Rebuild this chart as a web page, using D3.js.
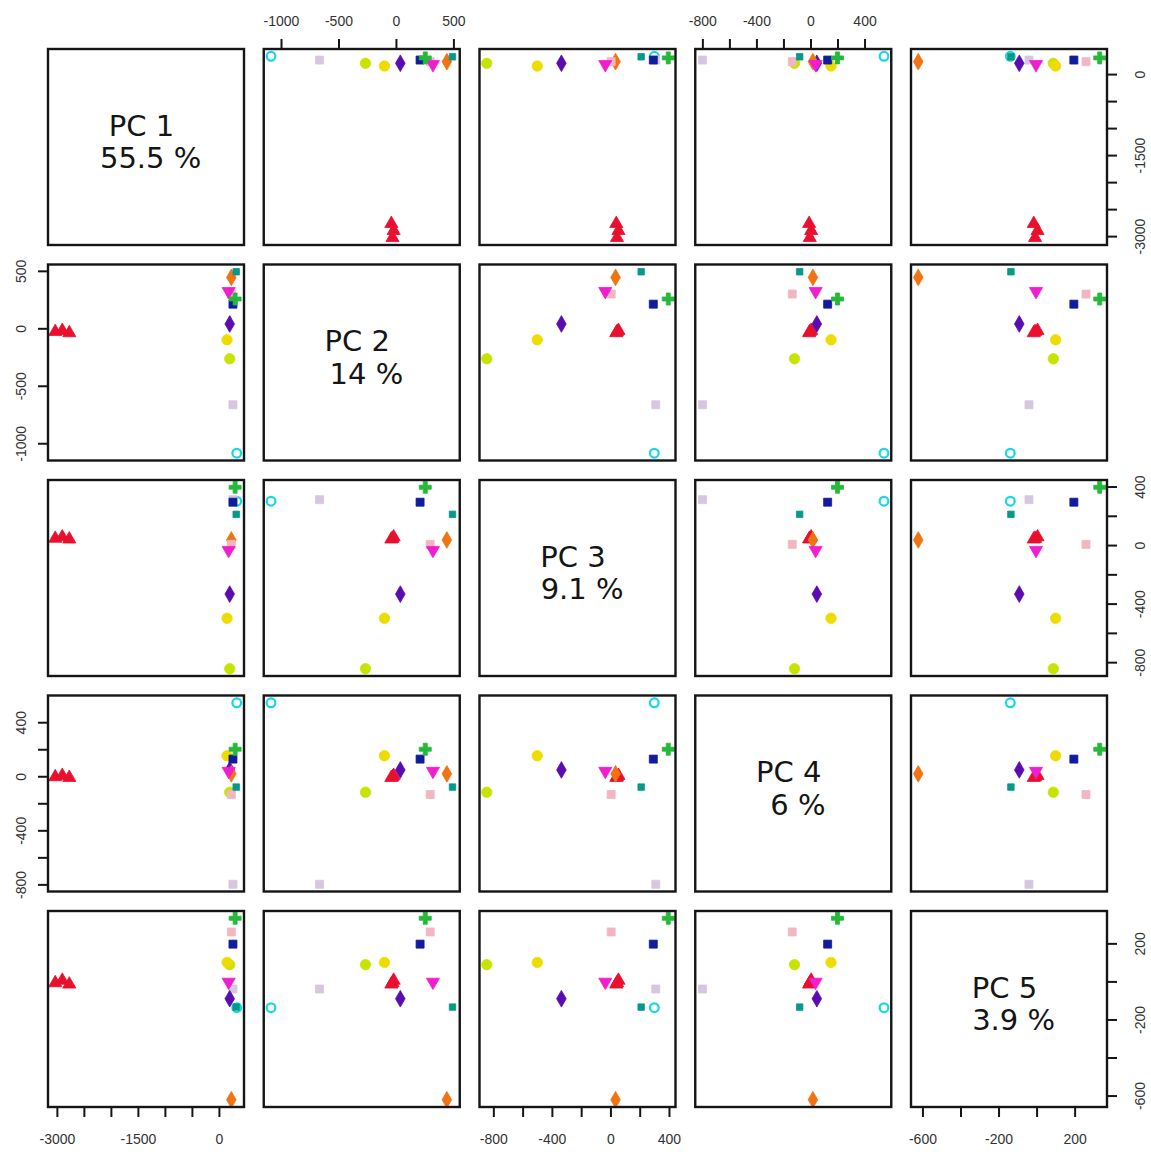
<!DOCTYPE html>
<html><head><meta charset="utf-8">
<script src="https://cdn.jsdelivr.net/npm/d3@7"></script>
<style>body{margin:0;background:#fff}</style>
</head><body>
<svg id="chart" width="1151" height="1154"></svg>
<script>
// ---------- data ----------
const pcNames = ["PC 1", "PC 2", "PC 3", "PC 4", "PC 5"];
const pcVariance = ["55.5 %", "14 %", "9.1 %", "6 %", "3.9 %"];
const samples = ["R1", "R2", "R3", "Cyan", "Lavender", "YellowGreen", "Yellow", "Purple", "Orange", "Pink", "Magenta", "Blue", "Green", "Teal"];
const pc1 = [-3030, -2900, -2770, 330, 260, 200, 150, 200, 230, 230, 180, 260, 300, 320];
const pc2 = [-30, -20, -40, -1087, -665, -265, -100, 38, 443, 298, 322, 210, 255, 492];
const pc3 = [45, 55, 40, 300, 310, -845, -500, -335, 35, 5, -35, 293, 395, 210];
const pc4 = [-5, 5, -10, 544, -799, -118, 152, 47, 18, -135, 38, 127, 200, -80];
const pc5 = [-8, 5, -15, -138, -40, 88, 100, -91, -622, 260, -3, 196, 332, -135];
const pointColors = ["#e8102e", "#e8102e", "#e8102e", "#16d8e0", "#d6c6de", "#c6e400", "#eedc00", "#5a0cb0", "#f07414", "#f2b6c2", "#f01ecf", "#101c9c", "#26b83a", "#06998a"];
const pointShapes = ["triangle", "triangle", "triangle", "ring", "square", "circle", "circle", "diamond", "diamond", "square", "invtriangle", "square", "cross", "smallsquare"];

const pcTicks = [
  [-3000, -2500, -2000, -1500, -1000, -500, 0],
  [-1000, -500, 0, 500],
  [-800, -600, -400, -200, 0, 200, 400],
  [-800, -600, -400, -200, 0, 200, 400],
  [-600, -400, -200, 0, 200]
];
const pcTickLabels = [
  [-3000, -1500, 0],
  [-1000, -500, 0, 500],
  [-800, -400, 0, 400],
  [-800, -400, 0, 400],
  [-600, -200, 200]
];

// ---------- layout ----------
const values = [pc1, pc2, pc3, pc4, pc5];
const n = values.length;
const x0 = 48, y0 = 49, size = 196, strideX = 215.75, strideY = 215.5;
const svg = d3.select("#chart");

const domains = values.map(v => {
  const [lo, hi] = d3.extent(v);
  const pad = (hi - lo) * 0.04;
  return [lo - pad, hi + pad];
});
const xScales = domains.map(d => d3.scaleLinear().domain(d).range([0, size]));
const yScales = domains.map(d => d3.scaleLinear().domain(d).range([size, 0]));

const symbolMap = {
  triangle: [d3.symbolTriangle, 75, 0],
  invtriangle: [d3.symbolTriangle, 75, 180],
  circle: [d3.symbolCircle, 85, 0],
  ring: [d3.symbolCircle, 60, 0],
  square: [d3.symbolSquare, 64, 0],
  smallsquare: [d3.symbolSquare, 42, 0],
  diamond: [d3.symbolDiamond, 80, 0],
  cross: [d3.symbolCross, 80, 0]
};

const idx = d3.range(samples.length);

function styleAxis(ax) {
  ax.select(".domain").remove();
  ax.selectAll(".tick line").attr("stroke", "#151515").attr("stroke-width", 2);
  ax.selectAll(".tick text").attr("font-family", "Liberation Sans, Arial, sans-serif")
    .attr("font-size", 14).attr("fill", "#333");
}

for (let i = 0; i < n; i++) {
  for (let j = 0; j < n; j++) {
    const g = svg.append("g").attr("transform", `translate(${x0 + j * strideX},${y0 + i * strideY})`);
    if (i === j) {
      const t = g.append("text")
        .attr("text-anchor", "middle")
        .attr("xml:space", "preserve")
        .style("white-space", "pre")
        .attr("font-family", "DejaVu Sans, sans-serif")
        .attr("font-size", 29)
        .attr("fill", "#151515");
      t.append("tspan").attr("x", size / 2).attr("y", size / 2 - 11.5).text(pcNames[i] + " ");
      t.append("tspan").attr("x", size / 2).attr("y", size / 2 + 21).text(" " + pcVariance[i]);
    } else {
      const sx = xScales[j], sy = yScales[i];
      g.selectAll("path.pt").data(idx).join("path")
        .attr("class", "pt")
        .attr("transform", k => `translate(${sx(values[j][k])},${sy(values[i][k])}) rotate(${symbolMap[pointShapes[k]][2]})`)
        .attr("d", k => d3.symbol(symbolMap[pointShapes[k]][0], symbolMap[pointShapes[k]][1])())
        .attr("fill", k => pointShapes[k] === "ring" ? "none" : pointColors[k])
        .attr("stroke", k => pointColors[k])
        .attr("stroke-width", k => pointShapes[k] === "ring" ? 2.2 : 0.8);
    }
    g.append("rect").attr("width", size).attr("height", size)
      .attr("fill", "none").attr("stroke", "#151515").attr("stroke-width", 2.4);

    const fmt = pc => d => pcTickLabels[pc].includes(d) ? String(d) : "";
    if (i === 0 && j % 2 === 1) {
      const ax = g.append("g").call(d3.axisTop(xScales[j]).tickValues(pcTicks[j]).tickSize(10).tickPadding(13.5).tickFormat(fmt(j)));
      styleAxis(ax);
    }
    if (i === n - 1 && j % 2 === 0) {
      const ax = g.append("g").attr("transform", `translate(0,${size})`)
        .call(d3.axisBottom(xScales[j]).tickValues(pcTicks[j]).tickSize(10).tickPadding(17).tickFormat(fmt(j)));
      styleAxis(ax);
    }
    if (j === 0 && i % 2 === 1) {
      const ax = g.append("g").call(d3.axisLeft(yScales[i]).tickValues(pcTicks[i]).tickSize(10).tickFormat(fmt(i)));
      styleAxis(ax);
      ax.selectAll(".tick text").attr("x", null).attr("dy", null)
        .attr("text-anchor", "middle").attr("dominant-baseline", "central")
        .attr("transform", "translate(-27,0) rotate(-90)");
    }
    if (j === n - 1 && i % 2 === 0) {
      const ax = g.append("g").attr("transform", `translate(${size},0)`)
        .call(d3.axisRight(yScales[i]).tickValues(pcTicks[i]).tickSize(10).tickFormat(fmt(i)));
      styleAxis(ax);
      ax.selectAll(".tick text").attr("x", null).attr("dy", null)
        .attr("text-anchor", "middle").attr("dominant-baseline", "central")
        .attr("transform", "translate(33,0) rotate(-90)");
    }
  }
}
</script>
</body></html>
